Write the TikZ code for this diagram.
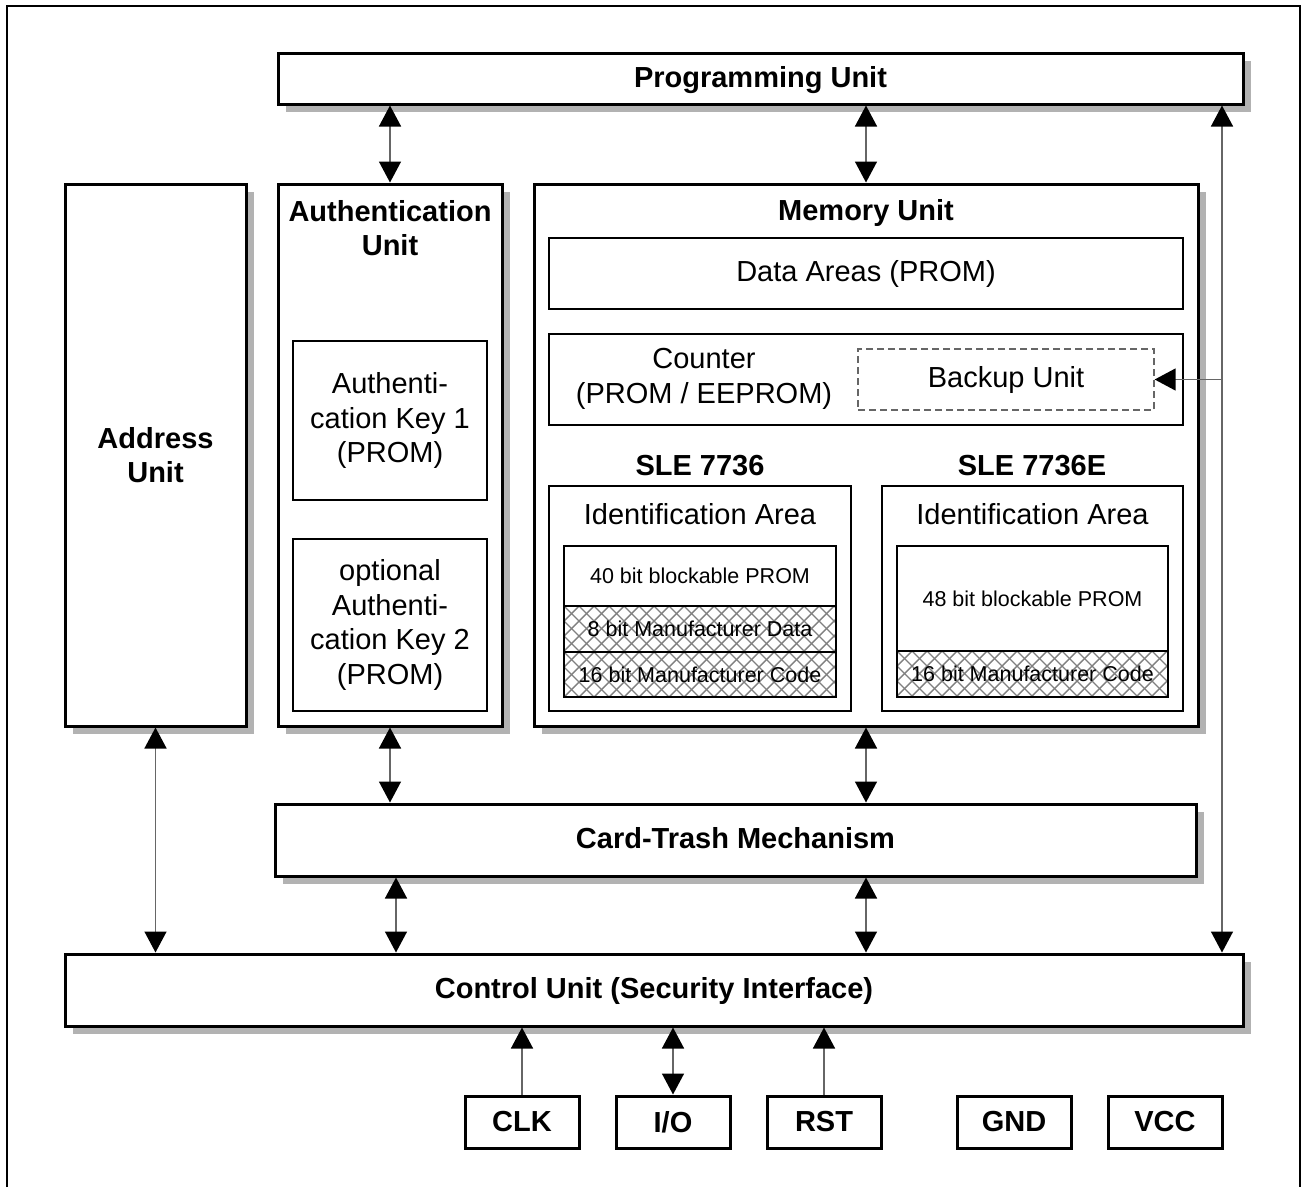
\documentclass[tikz,border=0pt]{standalone}
\usepackage{fontspec}
\setmainfont{Liberation Sans}
\usetikzlibrary{arrows.meta,shadows}

\begin{document}
\begin{tikzpicture}[x=1pt,y=-1pt,
    bigfont/.style={font=\fontsize{29}{34.5}\selectfont},
    boldfont/.style={font=\bfseries\fontsize{29}{34.5}\selectfont},
    unit/.style={draw,line width=3pt,fill=white,inner sep=0pt,align=center,boldfont,
      drop shadow={shadow xshift=8pt,shadow yshift=-8pt,fill=black!30,opacity=1}},
    field/.style={draw,line width=1.8pt,fill=white,inner sep=0pt,align=center,bigfont},
    cell/.style={draw,line width=1.5pt,inner sep=0pt,font=\fontsize{21.5}{25}\selectfont},
    hatch/.style={draw=black!50,line width=1.4pt},
    hatched/.style={cell,path picture={
        \foreach \k in {-9,...,28}{
          \draw[hatch] ([xshift=\k*15pt]path picture bounding box.north west) -- ++(130,130);
          \draw[hatch] ([xshift=\k*15pt]path picture bounding box.north west) -- ++(-130,130);
        }}},
    title/.style={inner sep=0pt,align=center,boldfont},
    label/.style={inner sep=0pt,align=center,bigfont},
    pin/.style={draw,line width=3pt,fill=white,minimum width=114pt,minimum height=52pt,boldfont},
    link/.style={draw=black!60,line width=1.5pt,{Triangle[width=22pt,length=21pt,color=black]}-{Triangle[width=22pt,length=21pt,color=black]}},
    feed/.style={draw=black!60,line width=1.5pt,-{Triangle[width=22pt,length=21pt,color=black]}}]
    \useasboundingbox (0,0) rectangle (1302,1187);
    \draw[line width=2.5pt] (7,1187) -- (7,6) -- (1300,6) -- (1300,1187);

    \node[unit,minimum width=965pt,minimum height=51pt,text depth=4pt] (prog) at (760.5,78.5) {Programming Unit};
    \node[unit,minimum width=181pt,minimum height=542pt] (addr) at (155.5,455) {Address\\Unit};
    \node[unit,minimum width=224pt,minimum height=542pt] (auth) at (390,455) {};
    \node[unit,minimum width=664pt,minimum height=542pt] (mem) at (866,455) {};
    \node[unit,minimum width=921pt,minimum height=72pt,text depth=4pt] (trash) at (735.5,840) {Card-Trash Mechanism};
    \node[unit,minimum width=1178pt,minimum height=72pt,text depth=4pt] (ctrl) at (654,990) {Control Unit (Security Interface)};

    % authentication unit
    \node[title] (authtitle) at (390,228) {Authentication\\Unit};
    \node[field,minimum width=194pt,minimum height=159pt] (key1) at (390,420.5) {Authenti-\\cation Key 1\\(PROM)};
    \node[field,minimum width=194pt,minimum height=172pt] (key2) at (390,625) {optional\\Authenti-\\cation Key 2\\(PROM)};

    % memory unit
    \node[title] (memtitle) at (866,213) {Memory Unit};
    \node[field,minimum width=634pt,minimum height=71pt] (data) at (866,273.5) {Data Areas (PROM)};
    \node[field,minimum width=634pt,minimum height=91pt] (counter) at (866,379.5) {};
    \node[label] (countertext) at (704,379) {Counter\\(PROM / EEPROM)};
    \node[draw=black!60,line width=1.3pt,dash pattern=on 7pt off 4pt,minimum width=296pt,minimum height=61pt,bigfont] (backup) at (1006,379.5) {Backup Unit};

    \node[title] (sle1) at (700,466) {SLE 7736};
    \node[title] (sle2) at (1032,466) {SLE 7736E};
    \node[field,minimum width=302pt,minimum height=225pt] (id1) at (700,598.5) {};
    \node[field,minimum width=301pt,minimum height=225pt] (id2) at (1032.5,598.5) {};
    \node[label] (idtitle1) at (700,514) {Identification Area};
    \node[label] (idtitle2) at (1032.5,514) {Identification Area};

    \node[cell,minimum width=272pt,minimum height=60pt] (prom40) at (700,576) {40 bit blockable PROM};
    \node[hatched,minimum width=272pt,minimum height=46pt] (mdata) at (700,629) {8 bit Manufacturer Data};
    \node[hatched,minimum width=272pt,minimum height=45pt] (mcode1) at (700,674.5) {16 bit Manufacturer Code};
    \node[cell,minimum width=271pt,minimum height=105pt] (prom48) at (1032.5,598.5) {48 bit blockable PROM};
    \node[hatched,minimum width=271pt,minimum height=46pt] (mcode2) at (1032.5,674) {16 bit Manufacturer Code};

    % pins
    \node[pin] (clk) at (522,1122) {CLK};
    \node[pin] (io) at (673,1122) {I/O};
    \node[pin] (rst) at (824,1122) {RST};
    \node[pin] (gnd) at (1014,1122) {GND};
    \node[pin] (vcc) at (1165,1122) {VCC};

    \coordinate (rail) at (1222,380);
    \coordinate (lowleft) at (396,900);

    \foreach \blk in {auth,mem}{
      \path[link] (\blk.north |- prog.south) -- (\blk.north);
      \path[link] (\blk.south) -- (\blk.south |- trash.north);
    }
    \path[link] (addr.south) -- (addr.south |- ctrl.north);
    \path[link] (trash.south -| lowleft) -- (ctrl.north -| lowleft);
    \path[link] (trash.south -| mem) -- (ctrl.north -| mem);
    \path[link] (prog.south -| rail) -- (ctrl.north -| rail);
    \path[feed] (rail |- backup.east) -- (backup.east);

    \path[feed] (clk.north) -- (clk.north |- ctrl.south);
    \path[link] (io.north) -- (io.north |- ctrl.south);
    \path[feed] (rst.north) -- (rst.north |- ctrl.south);
  \end{tikzpicture}
\end{document}
